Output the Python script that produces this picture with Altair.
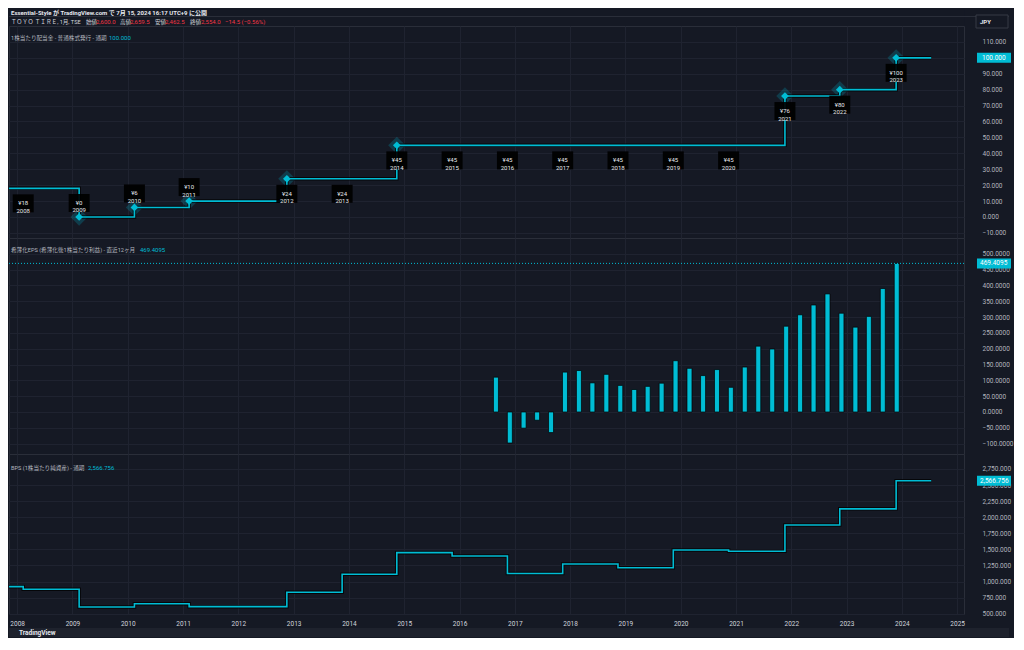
import altair as alt
import pandas as pd

# ---------------- data ----------------
fiscal_years = list(range(2008, 2024))
report_dates = ["2008-02-10", "2009-02-14", "2010-02-14", "2011-02-10",
                "2012-11-17", "2013-11-17", "2014-11-13", "2015-11-13",
                "2016-11-13", "2017-11-13", "2018-11-13", "2019-11-13",
                "2020-11-13", "2021-11-20", "2022-11-17", "2023-11-24"]
dividends = [18, 0, 6, 10, 24, 24, 45, 45, 45, 45, 45, 45, 45, 76, 80, 100]
bps = [879, 604, 655, 609, 833, 1113, 1449, 1397, 1125, 1272, 1215,
       1490, 1470, 1880, 2130, 2566.756]
dividend_before = 18
bps_before = 920
view_start = "2007-11-08"
view_end = "2025-02-15"
last_bar = "2024-07-13"
tick_years = list(range(2008, 2026))

eps_dates = pd.date_range("2016-08-29", periods=30,
                          freq=pd.DateOffset(months=3)).strftime("%Y-%m-%d").tolist()
eps_ttm = [110, -98, -51, -26, -65, 126, 131, 92, 119, 84, 71, 81, 91, 162,
           138, 115, 134, 78, 142, 208, 199, 271, 307, 338, 373, 312, 268,
           302, 390, 469.4095]

header_line1 = "Essential-Style が TradingView.com で 7月 15, 2024 16:17 UTC+9 に公開"
symbol_text = "ＴＯＹＯ ＴＩＲＥ, 1月, TSE"
ohlc_names = ["始値", "高値", "安値", "終値"]
ohlc_values = ["2,600.0", "2,659.5", "2,462.5", "2,554.0"]
change_text = "−14.5 (−0.56%)"
legend_div = "1株当たり配当金 - 普通株式発行 - 通期"
legend_eps = "希薄化EPS (希薄化後1株当たり利益) - 直近12ヶ月"
legend_bps = "BPS (1株当たり純資産) - 通期"
currency = "JPY"
footer_text = "TradingView"


def year_frac(s):
    d = pd.Timestamp(s)
    return d.year + (d.dayofyear - 1) / (366 if d.is_leap_year else 365)


# ---------------- style ----------------
FONT = "Roboto, 'Noto Sans CJK JP', sans-serif"
BG = "#151924"
GRID = "#1f2330"
SEP = "#2a2e39"
CYAN = "#00bcd4"
RED = "#f23645"
TXT = "#d1d4dc"
AX = "#b2b5be"
W = 955
H_HEAD, H1, H2, H3 = 17, 212, 216, 160
LP = 18
BOX_X0, BOX_X1, BOX_TX = 968, 1002, 971
RIGHT = 1000
labels_above = {2009, 2010, 2011}

xscale = alt.Scale(domain=[year_frac(view_start), year_frac(view_end)],
                   nice=False, zero=False, padding=0)


def X(show=False):
    return alt.X("t:Q", scale=xscale,
                 axis=alt.Axis(values=tick_years, format="d", grid=True,
                               gridColor=GRID, gridWidth=1, ticks=False,
                               domain=False, labels=show, labelFont=FONT,
                               labelFontSize=6.5, labelColor=TXT,
                               labelPadding=6, labelFlush=False, title=None))


def yaxis(values, fmt):
    return alt.Axis(orient="right", values=list(values), format=fmt,
                    labelAlign="left", labelPadding=LP, labelFontSize=6.5,
                    labelColor=AX, labelFont=FONT, ticks=False, domain=False,
                    gridColor=GRID, gridWidth=1, labelFlush=False,
                    labelOverlap=False, title=None)


one = pd.DataFrame({"a": [0]})


def txt(text, x, y, color, size=6, weight="normal"):
    return alt.Chart(one).mark_text(
        text=text, align="left", baseline="middle", fontSize=size,
        fontWeight=weight, color=color, font=FONT
    ).encode(x=alt.value(x), y=alt.value(y))


VIEW = alt.ViewBackground(stroke=SEP, strokeWidth=1, fill=BG)

# ---------------- header ----------------
head_layers = [
    alt.Chart(one).mark_rule(color=SEP, strokeWidth=1).encode(
        x=alt.value(0), x2=alt.value(RIGHT), y=alt.value(7.5)),
    txt(header_line1, 2, 3.5, "#e6e8ee", 6, "bold"),
    txt(symbol_text, 2, 12.5, TXT, 5.6),
]
name_x = [77, 111, 146, 181]
val_x = [87, 121, 156, 192]
for n, v, nx, vx in zip(ohlc_names, ohlc_values, name_x, val_x):
    head_layers.append(txt(n, nx, 12.5, TXT, 5.6))
    head_layers.append(txt(v, vx, 12.5, RED, 6))
head_layers.append(txt(change_text, 216, 12.5, RED, 6))
head_layers.append(
    alt.Chart(one).mark_rect(color=BG, stroke="#363a45", strokeWidth=1).encode(
        x=alt.value(967), x2=alt.value(999), y=alt.value(6), y2=alt.value(19)))
head_layers.append(txt(currency, 971, 12.5, "#e6e8ee", 6, "bold"))
header = alt.layer(*head_layers).properties(
    width=W, height=H_HEAD, view=alt.ViewBackground(stroke="transparent", fill=BG))

# ---------------- panel 1: dividends ----------------
div_line_df = pd.DataFrame({
    "t": [year_frac(d) for d in [view_start] + report_dates + [last_bar]],
    "value": [dividend_before] + dividends + [dividends[-1]],
})
prev = [dividend_before] + dividends[:-1]
div_pts_df = pd.DataFrame({
    "t": [year_frac(d) for d in report_dates],
    "value": dividends,
    "year": fiscal_years,
    "changed": [bool(v != p) for v, p in zip(dividends, prev)],
    "above": [bool(y in labels_above) for y in fiscal_years],
})
div_pts_df["label"] = ["¥" + str(v) + "\n" + str(y)
                       for v, y in zip(dividends, fiscal_years)]
last_div = pd.DataFrame({"value": [dividends[-1]]})

X1 = X(False)
Y1 = alt.Y("value:Q", scale=alt.Scale(domain=[-13.2, 120.0], nice=False, zero=False),
           axis=yaxis(range(-10, 111, 10), ".3f"))

p1_layers = [
    alt.Chart(div_pts_df).transform_filter("datum.changed").mark_point(
        shape="diamond", filled=True, size=300, color=CYAN, opacity=0.22, clip=True
    ).encode(x=X1, y=Y1),
    alt.Chart(div_line_df).mark_line(interpolate="step-after", color="#000",
                                     strokeWidth=3.5, opacity=0.75, clip=True
                                     ).encode(x=X1, y=Y1),
    alt.Chart(div_line_df).mark_line(interpolate="step-after", color=CYAN,
                                     strokeWidth=1.6, clip=True).encode(x=X1, y=Y1),
    alt.Chart(div_pts_df).transform_filter("datum.changed").mark_point(
        shape="diamond", filled=True, size=60, color=CYAN, opacity=1, clip=True
    ).encode(x=X1, y=Y1),
]
for flt, off in [("!datum.above", 15), ("datum.above", -14)]:
    p1_layers.append(
        alt.Chart(div_pts_df).transform_filter(flt).mark_rect(
            width=21, height=18, color="#000", opacity=0.92, yOffset=off, clip=True
        ).encode(x=X1, y=Y1))
    p1_layers.append(
        alt.Chart(div_pts_df).transform_filter(flt).mark_text(
            lineBreak="\n", fontSize=6, lineHeight=7.5, color="#e6e8ee",
            yOffset=off, font=FONT, baseline="middle", clip=True
        ).encode(x=X1, y=Y1, text="label:N"))
p1_layers += [
    alt.Chart(last_div).mark_rect(height=10, color=CYAN).encode(
        x=alt.value(BOX_X0), x2=alt.value(BOX_X1), y=Y1),
    alt.Chart(last_div).mark_text(align="left", baseline="middle", fontSize=6.5,
                                  color="#ffffff", font=FONT).encode(
        x=alt.value(BOX_TX + 2), y=Y1, text=alt.Text("value:Q", format=".3f")),
    txt(legend_div, 2, 12, AX, 5.6),
    alt.Chart(last_div).mark_text(align="left", baseline="middle", fontSize=6,
                                  color=CYAN, font=FONT).encode(
        x=alt.value(100), y=alt.value(12), text=alt.Text("value:Q", format=".3f")),
]
panel1 = alt.layer(*p1_layers).properties(width=W, height=H1, view=VIEW)

# ---------------- panel 2: EPS ----------------
eps_df = pd.DataFrame({"t": [year_frac(d) for d in eps_dates], "eps": eps_ttm})
last_eps = pd.DataFrame({"eps": [eps_ttm[-1]]})
X2 = X(False)
Y2 = alt.Y("eps:Q", scale=alt.Scale(domain=[-132.7, 549.6], nice=False, zero=False),
           axis=yaxis(range(-100, 501, 50), ".4f"))
panel2 = alt.layer(
    alt.Chart(eps_df).mark_bar(width=5, color=CYAN, stroke="#000",
                               strokeWidth=0.7, clip=True).encode(x=X2, y=Y2, y2=alt.datum(0)),
    alt.Chart(last_eps).mark_rule(color=CYAN, strokeDash=[1, 2], strokeWidth=1).encode(
        y=Y2, x=alt.value(0), x2=alt.value(W)),
    alt.Chart(last_eps).mark_rect(height=10, color=CYAN).encode(
        x=alt.value(BOX_X0), x2=alt.value(BOX_X1), y=Y2),
    alt.Chart(last_eps).mark_text(align="left", baseline="middle", fontSize=6.5,
                                  color="#ffffff", font=FONT).encode(
        x=alt.value(BOX_TX), y=Y2, text=alt.Text("eps:Q", format=".4f")),
    txt(legend_eps, 2, 12, AX, 5.6),
    alt.Chart(last_eps).mark_text(align="left", baseline="middle", fontSize=6,
                                  color=CYAN, font=FONT).encode(
        x=alt.value(131), y=alt.value(12), text=alt.Text("eps:Q", format=".4f")),
).properties(width=W, height=H2, view=VIEW)

# ---------------- panel 3: BPS ----------------
bps_df = pd.DataFrame({
    "t": [year_frac(d) for d in [view_start] + report_dates + [last_bar]],
    "bps": [bps_before] + bps + [bps[-1]],
})
last_bps = pd.DataFrame({"bps": [bps[-1]]})
X3 = X(True)
Y3 = alt.Y("bps:Q", scale=alt.Scale(domain=[495, 2983], nice=False, zero=False),
           axis=yaxis(range(500, 2751, 250), ",.3f"))
panel3 = alt.layer(
    alt.Chart(one).mark_rect(color="#1e222d").encode(
        x=alt.value(0), x2=alt.value(RIGHT), y=alt.value(H3 + 14), y2=alt.value(H3 + 23)),
    alt.Chart(bps_df).mark_line(interpolate="step-after", color="#000",
                                strokeWidth=3.5, opacity=0.75, clip=True).encode(x=X3, y=Y3),
    alt.Chart(bps_df).mark_line(interpolate="step-after", color=CYAN,
                                strokeWidth=1.6, clip=True).encode(x=X3, y=Y3),
    alt.Chart(last_bps).mark_rect(height=10, color=CYAN).encode(
        x=alt.value(BOX_X0), x2=alt.value(BOX_X1), y=Y3),
    alt.Chart(last_bps).mark_text(align="left", baseline="middle", fontSize=6.5,
                                  color="#ffffff", font=FONT).encode(
        x=alt.value(BOX_TX), y=Y3, text=alt.Text("bps:Q", format=",.3f")),
    txt(legend_bps, 2, 14, AX, 5.6),
    alt.Chart(last_bps).mark_text(align="left", baseline="middle", fontSize=6,
                                  color=CYAN, font=FONT).encode(
        x=alt.value(79), y=alt.value(14), text=alt.Text("bps:Q", format=",.3f")),
    txt(footer_text, 10, H3 + 18.5, "#e6e8ee", 6.5, "bold"),
).properties(width=W, height=H3, view=VIEW)

chart = alt.vconcat(header, panel1, panel2, panel3, spacing=0, bounds="flush").resolve_scale(
    x="shared", y="independent"
).properties(padding=0, background=BG).configure(
    font=FONT, view=alt.ViewConfig(stroke=SEP, strokeWidth=1, fill=BG)
)

chart.save("out.html", embed_options={"renderer": "svg", "actions": False})
